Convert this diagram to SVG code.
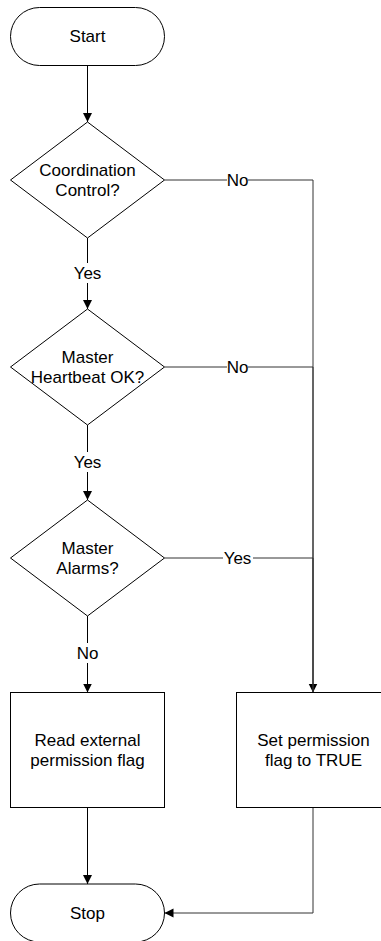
<svg xmlns="http://www.w3.org/2000/svg" width="381" height="941" viewBox="0 0 381 941">
<style>
.shape{fill:#fff;stroke:#000;stroke-width:1}
.t{font-family:"Liberation Sans",Arial,sans-serif;font-size:17px;fill:#000;text-anchor:middle}
.c{fill:none;stroke:#000;stroke-width:1}
.c2{fill:none;stroke:#333;stroke-width:1}
.lb{fill:#fff;stroke:none}
</style>
<defs>
<marker id="arr" viewBox="0 0 10 10" refX="10" refY="5" markerUnits="userSpaceOnUse" markerWidth="9" markerHeight="11" orient="auto">
<path d="M0,0 L10,5 L0,10 z" fill="#000"/>
</marker>
</defs>
<rect width="381" height="941" fill="#fff"/>
<g id="connectors">
<path class="c" d="M87.5,65.5 V122" marker-end="url(#arr)"/>
<path class="c" d="M87.5,238 V309" marker-end="url(#arr)"/>
<path class="c" d="M87.5,425 V500" marker-end="url(#arr)"/>
<path class="c" d="M87.5,616 V692.5" marker-end="url(#arr)"/>
<path class="c" d="M87.5,807.5 V884" marker-end="url(#arr)"/>
<path class="c2" d="M164.5,180 H313 V692.5" marker-end="url(#arr)"/>
<path class="c2" d="M164.5,367 H313 V692.5"/>
<path class="c2" d="M164.5,558 H313 V692.5"/>
<path class="c2" d="M313,807.5 V913 H164.5" marker-end="url(#arr)"/>
<rect class="lb" x="227" y="172" width="21" height="16"/>
<text class="t" x="237.5" y="186">No</text>
<rect class="lb" x="227" y="359" width="21" height="16"/>
<text class="t" x="237.5" y="373">No</text>
<rect class="lb" x="223" y="550" width="30" height="16"/>
<text class="t" x="237.5" y="564">Yes</text>
<rect class="lb" x="73" y="263" width="29" height="20"/>
<text class="t" x="87.5" y="279">Yes</text>
<rect class="lb" x="73" y="452" width="29" height="20"/>
<text class="t" x="87.5" y="468">Yes</text>
<rect class="lb" x="76" y="643" width="23" height="20"/>
<text class="t" x="87.5" y="659">No</text>
</g>
<g id="start">
<rect class="shape" x="10.5" y="7.5" width="154" height="58" rx="29" ry="29"/>
<text class="t" x="87.5" y="42">Start</text>
</g>
<g id="coordination">
<polygon class="shape" points="87.5,122 164.5,180 87.5,238 10.5,180"/>
<text class="t" x="87.5" y="176">Coordination</text>
<text class="t" x="87.5" y="196">Control?</text>
</g>
<g id="heartbeat">
<polygon class="shape" points="87.5,309 164.5,367 87.5,425 10.5,367"/>
<text class="t" x="87.5" y="363">Master</text>
<text class="t" x="87.5" y="383">Heartbeat OK?</text>
</g>
<g id="alarms">
<polygon class="shape" points="87.5,500 164.5,558 87.5,616 10.5,558"/>
<text class="t" x="87.5" y="554">Master</text>
<text class="t" x="87.5" y="574">Alarms?</text>
</g>
<g id="read">
<rect class="shape" x="10.5" y="692.5" width="154" height="115"/>
<text class="t" x="87.5" y="746">Read external</text>
<text class="t" x="87.5" y="766">permission flag</text>
</g>
<g id="set">
<rect class="shape" x="236.5" y="692.5" width="154" height="115"/>
<text class="t" x="313.5" y="746">Set permission</text>
<text class="t" x="313.5" y="766">flag to TRUE</text>
</g>
<g id="stop">
<rect class="shape" x="10.5" y="884" width="154" height="58" rx="29" ry="29"/>
<text class="t" x="87.5" y="919">Stop</text>
</g>
</svg>
